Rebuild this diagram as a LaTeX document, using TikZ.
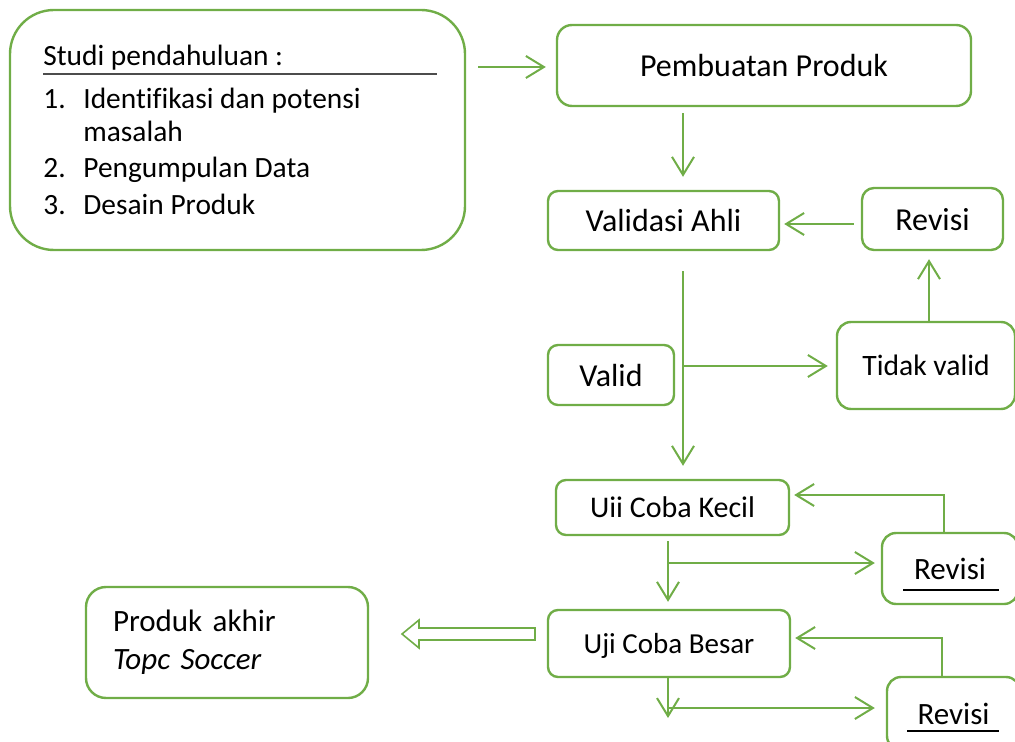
\documentclass[tikz,border=0pt]{standalone}
\usepackage{fontspec}
\setmainfont{Carlito}[Ligatures=NoCommon]
\usetikzlibrary{arrows.meta, calc}

\definecolor{hijau}{RGB}{112,173,71}

\tikzset{
	kotak/.style={draw=hijau, line width=1.2pt, rounded corners=5pt,
		inner sep=0pt, text depth=0pt, font=\fontsize{15.5}{19}\selectfont},
	alur/.style={draw=hijau, line width=1pt,
		-{Straight Barb[length=9pt, width=11pt, line width=1pt]}},
	garis/.style={draw=hijau, line width=1pt},
	teks/.style={inner sep=0pt, anchor=base west, font=\fontsize{14.7}{19}\selectfont}
}

\begin{document}
\begin{tikzpicture}[x=0.5pt, y=-0.5pt]
	\useasboundingbox (0,0) rectangle (1015,742);
	\clip (0,0) rectangle (1015,742);

	% studi pendahuluan
	\node[kotak, rounded corners=22pt, minimum width=227.5pt, minimum height=120pt]
		(studi) at (237.5,130) {};
	\node[teks] (judul) at (43,66) {Studi pendahuluan :};
	\draw[black!70, line width=0.6pt] (43,74) -- (437,74);
	\node[teks] (noA) at (43,109) {1.};
	\node[teks] (langkahA) at (83,109) {Identifikasi dan potensi};
	\node[teks] (langkahAb) at (83,142) {masalah};
	\node[teks] (noB) at (43,178) {2.};
	\node[teks] (langkahB) at (83,178) {Pengumpulan Data};
	\node[teks] (noC) at (43,215) {3.};
	\node[teks] (langkahC) at (83,215) {Desain Produk};

	% alur utama
	\node[kotak, rounded corners=7.5pt, minimum width=207pt, minimum height=40.5pt,
		font=\fontsize{16}{19}\selectfont]
		(pembuatan) at (764,65.5) {Pembuatan Produk};
	\node[kotak, minimum width=115.5pt, minimum height=29.5pt,
		font=\fontsize{16}{19}\selectfont]
		(validasi) at (663.5,220.5) {Validasi Ahli};
	\node[kotak, rounded corners=6pt, minimum width=70.5pt, minimum height=31pt,
		font=\fontsize{16}{19}\selectfont]
		(revisiA) at (932.5,219) {Revisi};
	\node[kotak, minimum width=63pt, minimum height=30pt,
		font=\fontsize{16}{19}\selectfont]
		(valid) at (611,375) {Valid};
	\node[kotak, rounded corners=7pt, minimum width=89pt, minimum height=43.5pt,
		font=\fontsize{14.8}{19}\selectfont]
		(tidak) at (926,365.5) {Tidak valid};
	\node[kotak, minimum width=116.5pt, minimum height=27.5pt,
		font=\fontsize{15}{19}\selectfont]
		(kecil) at (672.5,507.5) {Uii Coba Kecil};
	\node[kotak, rounded corners=7pt, minimum width=68pt, minimum height=35.5pt]
		(revisiB) at (950,568.5) {Revisi};
	\node[kotak, minimum width=121pt, minimum height=33.5pt,
		font=\fontsize{14.5}{19}\selectfont]
		(besar) at (669,643.5) {Uji Coba Besar};
	\node[kotak, rounded corners=7pt, minimum width=66.5pt, minimum height=36.5pt]
		(revisiC) at (953.5,713.5) {Revisi};
	\node[kotak, rounded corners=10pt, minimum width=141pt, minimum height=55.5pt,
		text width=114pt, text depth=, align=left, font=\fontsize{15.5}{19}\selectfont]
		(akhir) at (227,642.5) {Produk akhir\\\textit{Topc Soccer}};

	\draw[black, line width=0.6pt] (903,590) -- (999,590);
	\draw[black, line width=0.6pt] (907,731) -- (999,731);

	\coordinate (jalur) at (683,0);
	\coordinate (cabang) at (683,366);
	\coordinate (jalurB) at (668,0);
	\coordinate (cabangB) at (668,563);
	\coordinate (cabangC) at (668,708);
	\coordinate (ujung) at (668,718);

	% panah
	\draw[alur, shorten <=6pt, shorten >=5pt] (studi.east |- 0,67) -- (pembuatan.west |- 0,67);
	\draw[alur, shorten <=3pt, shorten >=6.5pt] (pembuatan.south -| jalur) -- (validasi.north -| jalur);
	\draw[alur, shorten <=3.5pt, shorten >=2pt] (revisiA.west |- 0,224) -- (validasi.east |- 0,224);
	\draw[alur, shorten >=4pt] (tidak.north -| 929,0) -- (revisiA.south -| 929,0);
	\draw[alur, shorten <=10pt, shorten >=6.5pt] (validasi.south -| jalur) -- (kecil.north -| jalur);
	\draw[alur, shorten >=4pt] (cabang) -- (tidak.west |- cabang);

	\draw[alur, shorten <=2.5pt, shorten >=3.5pt] (kecil.south -| jalurB) -- (besar.north -| jalurB);
	\draw[alur, shorten >=3pt] (cabangB) -- (revisiB.west |- cabangB);
	\draw[alur, shorten >=2pt] (revisiB.north -| 944,0) |- ([yshift=6.25pt]kecil.east);

	\draw[garis] (besar.south -| jalurB) -- (cabangC);
	\draw[alur] (cabangC) -- (ujung);
	\draw[alur, shorten >=5.5pt] (cabangC) -- (revisiC.west |- cabangC);
	\draw[alur, shorten >=2pt] (revisiC.north -| 942,0) |- ([yshift=2.75pt]besar.east);

	% panah ke produk akhir
	\draw[hijau, line width=0.8pt, fill=white]
		(535,628) -- (419,628) -- (419,620) -- (402,634) -- (419,648) -- (419,640) -- (535,640) -- cycle;
\end{tikzpicture}
\end{document}
